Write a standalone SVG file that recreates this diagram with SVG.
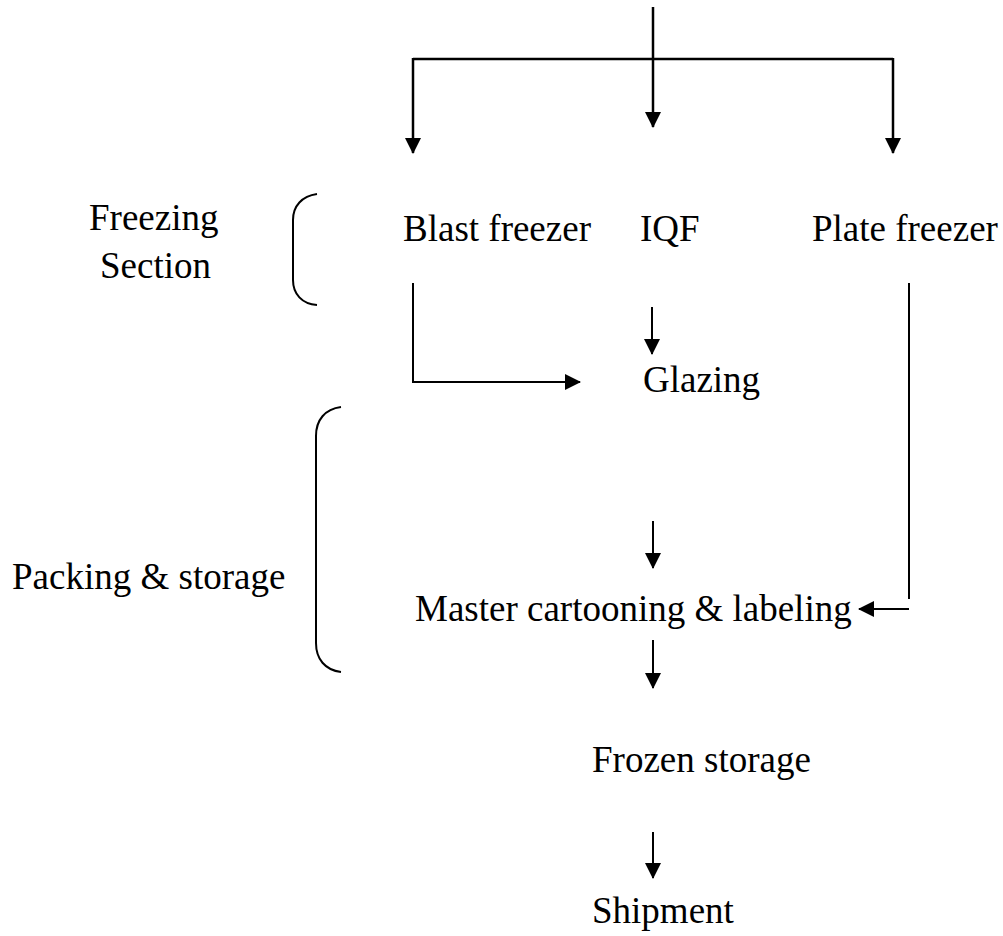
<svg xmlns="http://www.w3.org/2000/svg" width="1003" height="936" viewBox="0 0 1003 936">
  <style>
    .lbl { font-family: "Liberation Serif", "Times New Roman", serif; font-size: 37px; fill: #000; }
    .ln { stroke: #000; stroke-width: 2; fill: none; }
    .ln-bold { stroke: #000; stroke-width: 2.5; fill: none; }
    .brace { stroke: #000; stroke-width: 2; fill: none; }
  </style>
  <defs>
    <marker id="arrow" markerUnits="userSpaceOnUse" markerWidth="16" markerHeight="16" viewBox="0 0 16 16" refX="15" refY="8" orient="auto">
      <path d="M0,0 L16,8 L0,16 Z" fill="#000"/>
    </marker>
  </defs>

  <rect width="1003" height="936" fill="#fff"/>

  <!-- section brackets and their labels -->
  <g id="freezing-section">
    <path class="brace" d="M317,194 C302,196 293,206 293,220 L293,280 C293,294 302,304 317,305"/>
    <text class="lbl" x="89" y="230">Freezing</text>
    <text class="lbl" x="100" y="278">Section</text>
  </g>
  <g id="packing-section">
    <path class="brace" d="M341,407 C325,409 316,420 316,436 L316,643 C316,659 325,670 341,672"/>
    <text class="lbl" x="12" y="589">Packing &amp; storage</text>
  </g>

  <!-- process steps -->
  <g id="blast-freezer"><text class="lbl" x="403" y="241">Blast freezer</text></g>
  <g id="iqf"><text class="lbl" x="640" y="241">IQF</text></g>
  <g id="plate-freezer"><text class="lbl" x="812" y="241">Plate freezer</text></g>
  <g id="glazing"><text class="lbl" x="643" y="392">Glazing</text></g>
  <g id="master-cartooning"><text class="lbl" x="415" y="621">Master cartooning &amp; labeling</text></g>
  <g id="frozen-storage"><text class="lbl" x="592" y="772">Frozen storage</text></g>
  <g id="shipment"><text class="lbl" x="592" y="923">Shipment</text></g>

  <!-- connectors -->
  <g id="connectors">
    <line class="ln-bold" x1="653" y1="7" x2="653" y2="127" marker-end="url(#arrow)"/>
    <line class="ln-bold" x1="413" y1="59" x2="893" y2="59"/>
    <line class="ln-bold" x1="413" y1="58" x2="413" y2="153" marker-end="url(#arrow)"/>
    <line class="ln-bold" x1="893" y1="58" x2="893" y2="153" marker-end="url(#arrow)"/>

    <path class="ln" d="M413,283 V382 H580" marker-end="url(#arrow)"/>
    <line class="ln" x1="652" y1="307" x2="652" y2="354" marker-end="url(#arrow)"/>

    <line class="ln" x1="909" y1="283" x2="909" y2="599"/>
    <line class="ln" x1="909" y1="609" x2="859" y2="609" marker-end="url(#arrow)"/>

    <line class="ln" x1="653" y1="521" x2="653" y2="568" marker-end="url(#arrow)"/>
    <line class="ln" x1="653" y1="640" x2="653" y2="688" marker-end="url(#arrow)"/>
    <line class="ln" x1="653" y1="832" x2="653" y2="878" marker-end="url(#arrow)"/>
  </g>
</svg>
